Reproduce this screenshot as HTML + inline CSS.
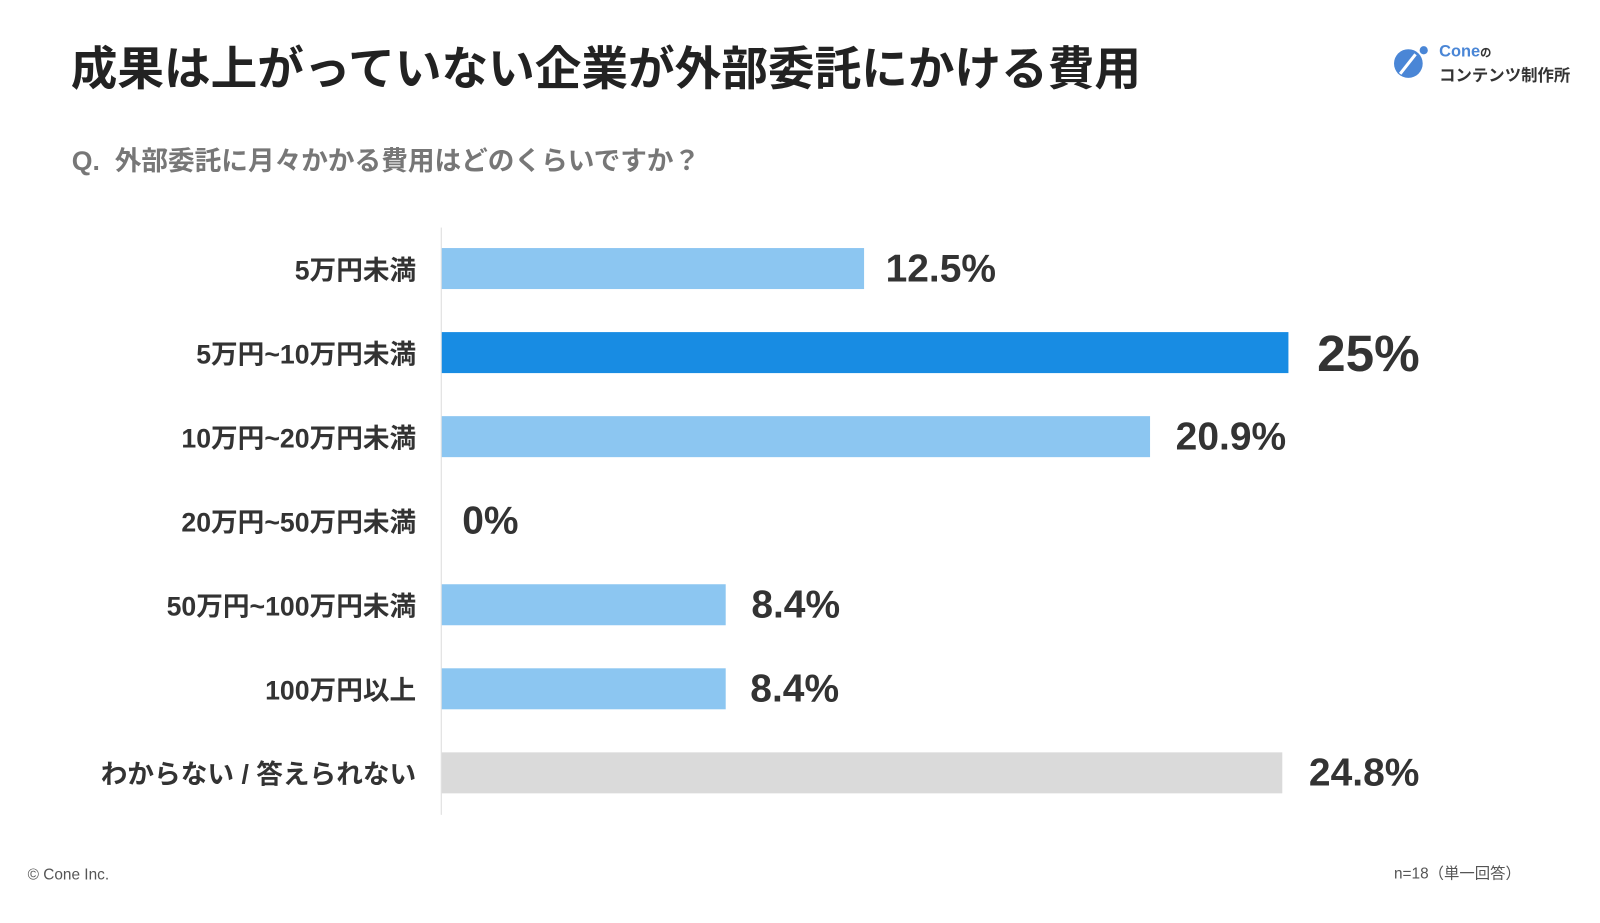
<!DOCTYPE html>
<html><head><meta charset="utf-8"><style>
body{margin:0;width:1600px;height:900px;background:#fff;position:relative;overflow:hidden;font-family:"Liberation Sans","Noto Sans CJK JP",sans-serif;}
#w{position:absolute;left:0;top:0;width:1600px;height:900px;transform:scale(1.025);transform-origin:0 0}
.a{position:absolute;white-space:nowrap}
.lab{position:absolute;right:1194px;font-size:26px;font-weight:bold;color:#333;transform:translateY(-50%);white-space:nowrap}
.bar{position:absolute;left:431px;height:40px;background:#8cc6f1}
.val{position:absolute;font-weight:bold;color:#333;transform:translateY(-50%);font-size:38px;white-space:nowrap}
</style></head><body><div id="w">
<div class="a" style="left:69px;top:31px;font-size:45.5px;font-weight:bold;color:#222">成果は上がっていない企業が外部委託にかける費用</div>
<div class="a" style="left:70px;top:137px;font-size:26px;font-weight:bold;color:#777">Q.&nbsp; 外部委託に月々かかる費用はどのくらいですか？</div>
<svg class="a" style="left:1359px;top:44px" width="36" height="34"><circle cx="15" cy="18" r="14" fill="#4a86d6"/><line x1="7" y1="28" x2="22" y2="9" stroke="#fff" stroke-width="3"/><circle cx="30" cy="5" r="4" fill="#4a86d6"/></svg>
<div class="a" style="left:1404px;top:42px;font-size:16px;color:#4a86d6;font-weight:bold">Cone<span style="color:#333;font-size:11px">の</span></div>
<div class="a" style="left:1404px;top:60px;font-size:16px;color:#333;font-weight:bold">コンテンツ制作所</div>
<div class="a" style="left:430px;top:222px;width:1px;height:573px;background:#ddd"></div>
<div class="lab" style="top:262px">5万円未満</div>
<div class="lab" style="top:344px">5万円~10万円未満</div>
<div class="lab" style="top:426px">10万円~20万円未満</div>
<div class="lab" style="top:508px">20万円~50万円未満</div>
<div class="lab" style="top:590px">50万円~100万円未満</div>
<div class="lab" style="top:672px">100万円以上</div>
<div class="lab" style="top:754px">わからない / 答えられない</div>
<div class="bar" style="top:242px;width:412px"></div>
<div class="bar" style="top:324px;width:826px;background:#188ce3"></div>
<div class="bar" style="top:406px;width:691px"></div>
<div class="bar" style="top:570px;width:277px"></div>
<div class="bar" style="top:652px;width:277px"></div>
<div class="bar" style="top:734px;width:820px;background:#dadada"></div>
<div class="val" style="left:864px;top:263px">12.5%</div>
<div class="val" style="left:1285px;top:345px;font-size:50px">25%</div>
<div class="val" style="left:1147px;top:427px">20.9%</div>
<div class="val" style="left:451px;top:509px">0%</div>
<div class="val" style="left:733px;top:591px">8.4%</div>
<div class="val" style="left:732px;top:673px">8.4%</div>
<div class="val" style="left:1277px;top:755px">24.8%</div>
<div class="a" style="left:27px;top:845px;font-size:15px;color:#555">© Cone Inc.</div>
<div class="a" style="left:1360px;top:841px;font-size:15px;color:#555">n=18（単一回答）</div>
</div></body></html>
